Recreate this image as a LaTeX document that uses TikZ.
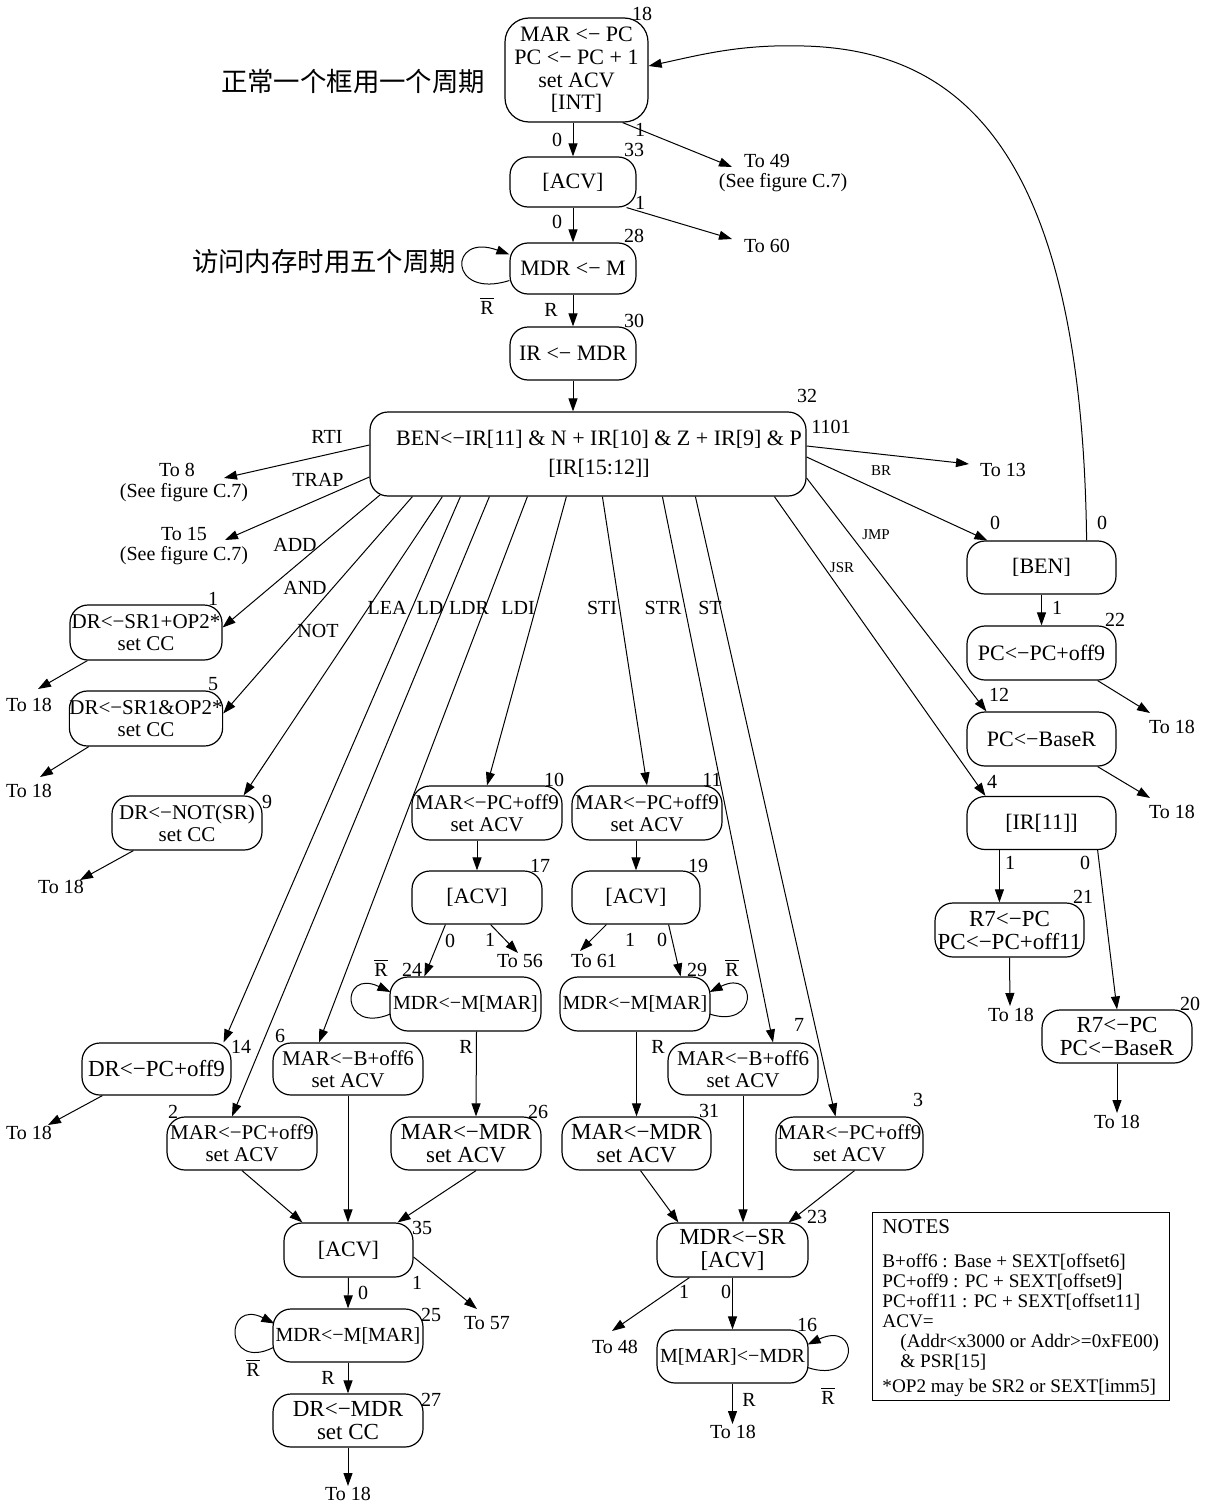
\documentclass[tikz,border=0pt]{standalone}
\usepackage{fontspec}
\setmainfont{Liberation Serif}
\newfontfamily\cjk{Noto Sans CJK SC}
\usetikzlibrary{arrows.meta,calc}
\newcommand\myRbar{$\overline{\hbox{R}}$}
\begin{document}
\begin{tikzpicture}[x=0.5pt,y=-0.5pt,
  box/.style={draw, line width=0.6pt, rounded corners=9pt, align=center, inner sep=0pt},
  f10/.style={font=\fontsize{10}{11}\selectfont},
  f105/.style={font=\fontsize{10.5}{11}\selectfont},
  f11/.style={font=\fontsize{11}{11.3}\selectfont},
  f115/.style={font=\fontsize{11.5}{11.5}\selectfont},
  arr/.style={line width=0.5pt, -{Triangle[length=6.5pt,width=4.5pt]}},
  num/.style={font=\fontsize{10}{10}\selectfont, inner sep=0pt},
  lbl/.style={font=\fontsize{10}{10}\selectfont, inner sep=0pt},
  sml/.style={font=\fontsize{7.5}{7.5}\selectfont, inner sep=0pt},
  totxt/.style={font=\fontsize{10}{10}\selectfont, inner sep=0pt},
  cjkt/.style={font=\cjk\fontsize{13.2}{14}\selectfont, inner sep=0pt},
]
\useasboundingbox (0,0) rectangle (1209,1504);

% ---------- nodes ----------
\node[box,f11,rounded corners=12pt,minimum width=71.5pt,minimum height=52pt] (n18) at (576.5,70) {MAR <− PC\\PC <− PC + 1\\set ACV\\{[INT]}};
\node[box,f11,minimum width=63pt,minimum height=25pt] (n33) at (573,182) {[ACV]};
\node[box,f11,minimum width=63pt,minimum height=25.5pt] (n28) at (573,268.5) {MDR <− M};
\node[box,f11,minimum width=63pt,minimum height=26.5pt] (n30) at (573,353.5) {IR <− MDR};
\node[box,font=\fontsize{11}{11.5}\selectfont,minimum width=218pt,minimum height=42pt] (n32) at (588,454)
  {\hspace*{11pt}BEN<−IR[11] \& N + IR[10] \& Z + IR[9] \& P\\[3pt]\hspace*{11pt}[IR[15:12]]};

\node[box,f105,minimum width=76pt,minimum height=27.5pt] (n1) at (146,632.5) {DR<−SR1+OP2*\\set CC};
\node[box,f105,minimum width=76pt,minimum height=27.5pt] (n5) at (146,718.5) {DR<−SR1\&OP2*\\set CC};
\node[box,f105,minimum width=75pt,minimum height=27pt] (n9) at (187,823) {DR<−NOT(SR)\\set CC};
\node[box,f105,minimum width=75pt,minimum height=27pt] (n10) at (487,813) {MAR<−PC+off9\\set ACV};
\node[box,f11,minimum width=65pt,minimum height=26.5pt] (n17) at (477,897.5) {[ACV]};
\node[box,f10,minimum width=75.5pt,minimum height=27pt] (n24) at (465.5,1004) {MDR<−M[MAR]};
\node[box,f115,minimum width=75pt,minimum height=26.5pt] (n26) at (466,1143.5) {MAR<−MDR\\set ACV};
\node[box,f115,minimum width=74.5pt,minimum height=26pt] (n14) at (156.5,1069) {DR<−PC+off9};
\node[box,f105,minimum width=75pt,minimum height=26.5pt] (n2) at (242,1143.5) {MAR<−PC+off9\\set ACV};
\node[box,f105,minimum width=75pt,minimum height=26pt] (n6) at (348,1069) {MAR<−B+off6\\set ACV};
\node[box,f11,minimum width=64.5pt,minimum height=27pt] (n35) at (348.5,1250) {[ACV]};
\node[box,f10,minimum width=75pt,minimum height=26.5pt] (n25) at (348,1335.5) {MDR<−M[MAR]};
\node[box,f115,minimum width=75pt,minimum height=26.5pt] (n27) at (348,1420.5) {DR<−MDR\\set CC};

\node[box,f105,minimum width=75pt,minimum height=27pt] (n11) at (647,813) {MAR<−PC+off9\\set ACV};
\node[box,f11,minimum width=64pt,minimum height=26.5pt] (n19) at (636,897.5) {[ACV]};
\node[box,f10,minimum width=75pt,minimum height=27pt] (n29) at (635,1004) {MDR<−M[MAR]};
\node[box,f115,minimum width=74.5pt,minimum height=26.5pt] (n31) at (636.5,1143.5) {MAR<−MDR\\set ACV};
\node[box,f105,minimum width=75pt,minimum height=26pt] (n7) at (743,1069) {MAR<−B+off6\\set ACV};
\node[box,f105,minimum width=73.5pt,minimum height=26.5pt] (n3) at (849.5,1143.5) {MAR<−PC+off9\\set ACV};
\node[box,f115,minimum width=75.5pt,minimum height=27pt] (n23) at (732.5,1250) {MDR<−SR\\{[ACV]}};
\node[box,f10,minimum width=75.5pt,minimum height=26.5pt] (n16) at (732.5,1356.5) {M[MAR]<−MDR};

\node[box,f11,minimum width=74.5pt,minimum height=26.5pt] (nBEN) at (1041.5,567.5) {[BEN]};
\node[box,f11,minimum width=74.5pt,minimum height=27pt] (n22) at (1041.5,653) {PC<−PC+off9};
\node[box,f11,minimum width=74.5pt,minimum height=27pt] (n12) at (1041.5,739) {PC<−BaseR};
\node[box,f11,minimum width=74.5pt,minimum height=26.5pt] (n4) at (1041.5,823) {[IR[11]]};
\node[box,f115,minimum width=74.5pt,minimum height=27pt] (n21) at (1009.5,930) {R7<−PC\\PC<−PC+off11};
\node[box,f115,minimum width=75pt,minimum height=26.5pt] (n20) at (1117,1036.5) {R7<−PC\\PC<−BaseR};

% notes
\node[draw,line width=0.5pt,anchor=north west,inner sep=0pt,minimum width=148.5pt,minimum height=94pt] (notes) at (872,1212) {};
\node[anchor=north west,align=left,inner sep=0pt,font=\fontsize{9.6}{10}\selectfont] (notetext) at (882,1219)
 {{\fontsize{10.5}{10}\selectfont NOTES}\\[7pt]
  B+off6 : Base + SEXT[offset6]\\
  PC+off9 : PC + SEXT[offset9]\\
  PC+off11 : PC + SEXT[offset11]\\
  ACV=\\
  \hspace*{9pt}(Addr<x3000 or Addr>=0xFE00)\\
  \hspace*{9pt}\& PSR[15]\\[2.5pt]
  *OP2 may be SR2 or SEXT[imm5]};

% Chinese annotations
\node[cjkt] (c1) at (353,82) {正常一个框用一个周期};
\node[cjkt] (c2) at (324,262) {访问内存时用五个周期};

% ---------- state numbers ----------
\node[num] (s18) at (642,14) {18};
\node[num] (s33) at (634,150) {33};
\node[num] (s28) at (634,236) {28};
\node[num] (s30) at (634,321) {30};
\node[num] (s32) at (807,396) {32};
\node[num] (s1101) at (831,427) {1101};
\node[num] (s1) at (213,599) {1};
\node[num] (s5) at (213,684) {5};
\node[num] (s9) at (267,802) {9};
\node[num] (s10) at (554,780) {10};
\node[num] (s11) at (712,780) {11};
\node[num] (s17) at (540,866) {17};
\node[num] (s19) at (698,866) {19};
\node[num] (s24) at (412,970) {24};
\node[num] (s29) at (697,970) {29};
\node[num] (s14) at (241,1047) {14};
\node[num] (s6) at (280,1036) {6};
\node[num] (s7) at (799,1025) {7};
\node[num] (s2) at (173,1112) {2};
\node[num] (s26) at (538,1112) {26};
\node[num] (s31) at (709,1111) {31};
\node[num] (s3) at (918,1100) {3};
\node[num] (s35) at (422,1228) {35};
\node[num] (s23) at (817,1217) {23};
\node[num] (s25) at (431,1315) {25};
\node[num] (s27) at (431,1400) {27};
\node[num] (s16) at (807,1325) {16};
\node[num] (s22) at (1115,620) {22};
\node[num] (s12) at (999,695) {12};
\node[num] (s4) at (992,782) {4};
\node[num] (s21) at (1083,897) {21};
\node[num] (s20) at (1190,1004) {20};

% ---------- "To" targets ----------
\node[totxt] (x49) at (767,161) {To 49};
\node[totxt] (x49b) at (783,183) {(See figure C.7)};
\node[totxt] (x60) at (767,246) {To 60};
\node[totxt] (x8) at (177,470) {To 8};
\node[totxt] (x8b) at (184,493) {(See figure C.7)};
\node[totxt] (x15) at (184,534) {To 15};
\node[totxt] (x15b) at (184,556) {(See figure C.7)};
\node[totxt] (x13) at (1003,470) {To 13};
\node[totxt] (xa1) at (29,705) {To 18};
\node[totxt] (xa5) at (29,791) {To 18};
\node[totxt] (xa9) at (61,887) {To 18};
\node[totxt] (xa14) at (29,1133) {To 18};
\node[totxt] (x56) at (520,961) {To 56};
\node[totxt] (x57) at (487,1323) {To 57};
\node[totxt] (xa27) at (348,1494) {To 18};
\node[totxt] (x61) at (594,961) {To 61};
\node[totxt] (x48) at (615,1347) {To 48};
\node[totxt] (xa16) at (733,1432) {To 18};
\node[totxt] (xa22) at (1172,727) {To 18};
\node[totxt] (xa12) at (1172,812) {To 18};
\node[totxt] (xa21) at (1011,1015) {To 18};
\node[totxt] (xa20) at (1117,1122) {To 18};

\coordinate (t49) at (732,167);
\coordinate (t60) at (732,239);
\coordinate (t8) at (224,478);
\coordinate (t15) at (225,540);
\coordinate (t13) at (969,464);
\coordinate (t1) at (38,689);
\coordinate (t5) at (40,777);
\coordinate (t9) at (80,880);
\coordinate (t14) at (48,1125);
\coordinate (t56) at (518,953);
\coordinate (t57) at (477,1309);
\coordinate (t27) at (348,1486);
\coordinate (t61) at (580,951);
\coordinate (t48) at (612,1331);
\coordinate (t16) at (732.5,1424);
\coordinate (t22) at (1150,713);
\coordinate (t12) at (1150,798);
\coordinate (t21) at (1010,1006);
\coordinate (t20) at (1117,1113);

% ---------- edges: top column ----------
\draw[arr] (n33.north |- n18.south) -- (n33.north);
\draw[arr] ($(n18.south east)+(-26,0)$) -- (t49);
\draw[arr] (n33.south) -- (n28.north);
\draw[arr] ($(n33.south east)+(-10,0)$) -- (t60);
\draw[arr] ($(n28.west)+(0,12)$) .. controls (448,300) and (448,232) .. ($(n28.west)+(0,-14)$);
\draw[arr] (n28.south) -- (n30.north);
\draw[arr] (n30.south) -- (n30.south |- n32.north);

\node[lbl] (e0a) at (557,140) {0};
\node[lbl] (e1a) at (640,130) {1};
\node[lbl] (e0b) at (557,222) {0};
\node[lbl] (e1b) at (640,203) {1};
\node[lbl] (eRa) at (551,310) {R};
\node[lbl] (eRba) at (487,306) {\myRbar};

% ---------- edges from 32 ----------
\draw[arr] ($(n32.west)+(0,-9)$) -- (t8);
\draw[arr] ($(n32.west)+(0,23)$) -- (t15);
\draw[arr] ($(n32.east)+(0,-8)$) -- (t13);
\draw[arr] ($(n32.east)+(0,3)$) -- ($(nBEN.north west)+(21,0)$);
\draw[arr] ($(n32.east)+(0,24)$) -- ($(n12.north west)+(20,0)$);
\draw[arr] ($(n32.south west)+(405,0)$) -- ($(n4.north west)+(19,0)$);
\draw[arr] ($(n32.south west)+(11,-2)$) -- ($(n1.east)+(0,-5)$);
\draw[arr] ($(n32.south west)+(43,0)$) -- ($(n5.east)+(0,-5)$);
\draw[arr] ($(n32.south west)+(73,0)$) -- ($(n9.north east)+(-19,0)$);
\draw[arr] ($(n32.south west)+(91,0)$) -- ($(n14.north east)+(-8,0)$);
\draw[arr] ($(n32.south west)+(120,0)$) -- ($(n2.north)+(-10,0)$);
\draw[arr] ($(n32.south west)+(158,0)$) -- ($(n6.north)+(-29,0)$);
\draw[arr] ($(n32.south west)+(197,0)$) -- (n10.north);
\draw[arr] ($(n32.south west)+(233,0)$) -- (n11.north);
\draw[arr] ($(n32.south west)+(293,0)$) -- ($(n7.north)+(30,0)$);
\draw[arr] ($(n32.south west)+(326,0)$) -- ($(n3.north)+(-14,0)$);

\node[lbl] (lRTI) at (327,437) {RTI};
\node[lbl] (lTRAP) at (318,480) {TRAP};
\node[lbl] (lADD) at (295,545) {ADD};
\node[lbl] (lAND) at (305,588) {AND};
\node[lbl] (lNOT) at (318,631) {NOT};
\node[lbl] (lLEA) at (387,608) {LEA};
\node[lbl] (lLD) at (430,608) {LD};
\node[lbl] (lLDR) at (469,608) {LDR};
\node[lbl] (lLDI) at (518,608) {LDI};
\node[lbl] (lSTI) at (602,608) {STI};
\node[lbl] (lSTR) at (663,608) {STR};
\node[lbl] (lST) at (710,608) {ST};
\node[sml] (lBR) at (881,471) {BR};
\node[sml] (lJMP) at (876,535) {JMP};
\node[sml] (lJSR) at (842,568) {JSR};

% ---------- right column ----------
\draw[arr] ($(nBEN.north east)+(-30,0)$) .. controls (1082,150) and (960,50) .. (804,46) .. controls (740,44) and (700,55) .. ($(n18.east)+(0,-4)$);
\draw[arr] (nBEN.south) -- (n22.north);
\draw[arr] ($(n22.south east)+(-19,0)$) -- (t22);
\draw[arr] ($(n12.south east)+(-19,0)$) -- (t12);
\coordinate (a4) at ($(n4.south west)+(33,0)$);
\draw[arr] (a4) -- (a4 |- n21.north);
\draw[arr] ($(n4.south east)+(-19,0)$) -- (n20.north);
\draw[arr] (n21.south) -- (t21);
\draw[arr] (n20.south) -- (t20);

\node[lbl] (eBR0) at (995,523) {0};
\node[lbl] (eBEN0) at (1102,523) {0};
\node[lbl] (eBEN1) at (1057,608) {1};
\node[lbl] (e4a) at (1010,863) {1};
\node[lbl] (e4b) at (1085,863) {0};

% ---------- left block ----------
\draw[arr] ($(n1.south west)+(18,0)$) -- (t1);
\draw[arr] ($(n5.south west)+(20,0)$) -- (t5);
\draw[arr] ($(n9.south west)+(22,0)$) -- (t9);
\draw[arr] ($(n14.south west)+(21,0)$) -- (t14);
\draw[arr] (n17.north |- n10.south) -- (n17.north);
\draw[arr] ($(n17.south west)+(34,0)$) -- ($(n24.north west)+(35,0)$);
\draw[arr] ($(n17.south east)+(-52,0)$) -- (t56);
\draw[arr] ($(n24.west)+(1,10)$) .. controls (340,1035) and (340,968) .. ($(n24.west)+(1,-12)$);
\draw[arr] ($(n24.south)+(11,0)$) -- ($(n26.north)+(10,0)$);
\draw[arr] ($(n26.south)+(10,0)$) -- ($(n35.north east)+(-16,0)$);
\draw[arr] (n6.south) -- (n6.south |- n35.north);
\draw[arr] (n2.south) -- ($(n35.north west)+(19,0)$);
\draw[arr] (n35.south) -- (n25.north);
\draw[arr] ($(n35.east)+(0,7)$) -- (t57);
\draw[arr] ($(n25.west)+(1,12)$) .. controls (224,1372) and (224,1298) .. ($(n25.west)+(2,-12)$);
\draw[arr] (n25.south) -- (n27.north);
\draw[arr] (n27.south) -- (t27);

\node[lbl] (e17a) at (450,941) {0};
\node[lbl] (e17b) at (490,940) {1};
\node[lbl] (eRb24) at (381,968) {\myRbar};
\node[lbl] (eR24) at (466,1047) {R};
\node[lbl] (e35a) at (363,1293) {0};
\node[lbl] (e35b) at (417,1283) {1};
\node[lbl] (eR25) at (328,1378) {R};
\node[lbl] (eRb25) at (253,1368) {\myRbar};

% ---------- store block ----------
\draw[arr] (n19.north |- n11.south) -- (n19.north);
\draw[arr] ($(n19.south west)+(35,0)$) -- (t61);
\draw[arr] ($(n19.south east)+(-32,0)$) -- ($(n29.north east)+(-30,0)$);
\draw[arr] ($(n29.east)+(-1,10)$) .. controls (758,1030) and (758,968) .. ($(n29.east)+(-1,-12)$);
\draw[arr] (n31.north |- n29.south) -- (n31.north);
\draw[arr] ($(n31.south)+(4,0)$) -- ($(n23.north west)+(22,0)$);
\draw[arr] (n7.south) -- (n7.south |- n23.north);
\draw[arr] ($(n3.south)+(5,0)$) -- ($(n23.north east)+(-20,0)$);
\draw[arr] ($(n23.south west)+(33,0)$) -- (t48);
\draw[arr] (n16.north |- n23.south) -- (n16.north);
\draw[arr] ($(n16.east)+(-1,11)$) .. controls (860,1385) and (860,1320) .. ($(n16.east)+(-1,-12)$);
\draw[arr] (n16.south) -- (t16);

\node[lbl] (e19a) at (630,940) {1};
\node[lbl] (e19b) at (662,940) {0};
\node[lbl] (eRb29) at (732,968) {\myRbar};
\node[lbl] (eR29) at (658,1047) {R};
\node[lbl] (e23a) at (684,1292) {1};
\node[lbl] (e23b) at (726,1292) {0};
\node[lbl] (eR16) at (749,1400) {R};
\node[lbl] (eRb16) at (828,1396) {\myRbar};
\end{tikzpicture}
\end{document}
